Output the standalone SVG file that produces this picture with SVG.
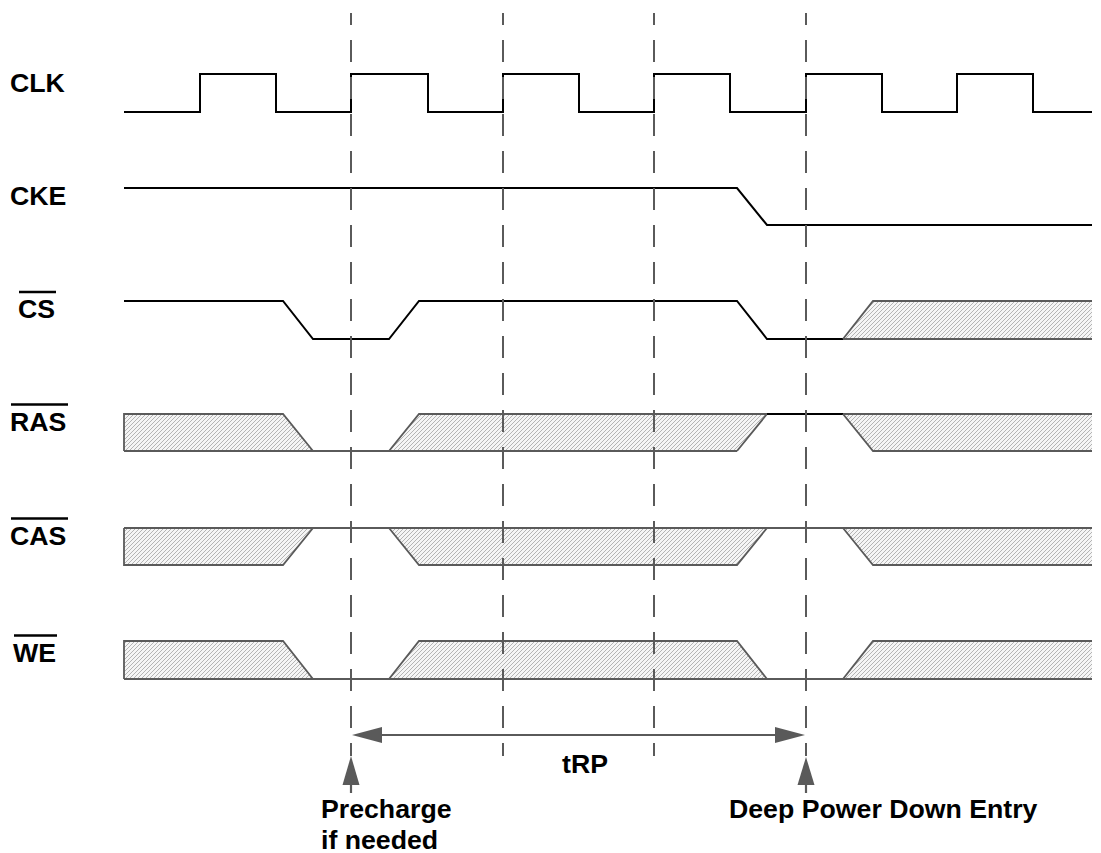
<svg xmlns="http://www.w3.org/2000/svg" width="1101" height="853" viewBox="0 0 1101 853">
<style>
.lbl{font-family:"Liberation Sans",Arial,sans-serif;font-weight:bold;font-size:26.7px;fill:#000}
.sig{fill:none;stroke:#000;stroke-width:2;stroke-linejoin:miter}
.gry{fill:none;stroke:#5a5a5a;stroke-width:1.8}
.hat{fill:url(#hatch);stroke:none}
.ovl{stroke:#000;stroke-width:2.6}
.dash{stroke:#5a5a5a;stroke-width:2;stroke-dasharray:22 15;stroke-dashoffset:10;fill:none}
.arr{stroke:#5a5a5a;stroke-width:2.2;fill:none}
.head{fill:#5a5a5a;stroke:none}
</style>
<defs>
<pattern id="hatch" patternUnits="userSpaceOnUse" width="4" height="4">
<rect width="4" height="4" fill="#f5f5f5"/>
<path d="M-1,1 L1,-1 M0,4 L4,0 M3,5 L5,3" stroke="#b4b4b4" stroke-width="1"/>
</pattern>
</defs>
<rect width="1101" height="853" fill="#fff"/>

<g id="clk">
<text class="lbl" x="10" y="92">CLK</text>
<polyline class="sig" points="124,112 200,112 200,74 276,74 276,112 351,112 351,74 428,74 428,112 503,112 503,74 579,74 579,112 654,112 654,74 730,74 730,112 806,112 806,74 882,74 882,112 957,112 957,74 1033,74 1033,112 1092,112"/>
</g>

<g id="cke">
<text class="lbl" x="10" y="205">CKE</text>
<polyline class="sig" points="124,188 737,188 767,225 1092,225"/>
</g>

<g id="cs">
<text class="lbl" x="18" y="318">CS</text>
<line class="ovl" x1="19" y1="292" x2="56" y2="292"/>
<polygon class="hat" points="843,339 873,301 1092,301 1092,339"/>
<polyline class="sig" points="124,301 283,301 313,339 389,339 419,301 737,301 767,339 843,339"/>
<polyline class="gry" points="843,339 873,301 1092,301"/>
<line class="gry" x1="843" y1="339" x2="1092" y2="339"/>
</g>

<g id="ras">
<text class="lbl" x="10" y="431">RAS</text>
<line class="ovl" x1="11" y1="404.5" x2="68" y2="404.5"/>
<polygon class="hat" points="124,414 283,414 313,451 124,451"/>
<polygon class="hat" points="389,451 419,414 767,414 737,451"/>
<polygon class="hat" points="843,414 1092,414 1092,451 873,451"/>
<polyline class="gry" points="124,451 124,414 283,414 313,451"/>
<line class="gry" x1="124" y1="451" x2="737" y2="451"/>
<polyline class="gry" points="389,451 419,414 767,414 737,451"/>
<line class="sig" x1="767" y1="414" x2="843" y2="414"/>
<polyline class="gry" points="843,414 1092,414"/>
<polyline class="gry" points="843,414 873,451 1092,451"/>
</g>

<g id="cas">
<text class="lbl" x="10" y="545">CAS</text>
<line class="ovl" x1="11" y1="518.5" x2="68" y2="518.5"/>
<polygon class="hat" points="124,528 313,528 283,565 124,565"/>
<polygon class="hat" points="389,528 767,528 737,565 419,565"/>
<polygon class="hat" points="843,528 1092,528 1092,565 873,565"/>
<polyline class="gry" points="124,528 124,565 283,565 313,528"/>
<line class="gry" x1="124" y1="528" x2="1092" y2="528"/>
<polyline class="gry" points="389,528 419,565 737,565 767,528"/>
<polyline class="gry" points="843,528 873,565 1092,565"/>
</g>

<g id="we">
<text class="lbl" x="13" y="662">WE</text>
<line class="ovl" x1="14" y1="635.5" x2="57" y2="635.5"/>
<polygon class="hat" points="124,641 283,641 313,679 124,679"/>
<polygon class="hat" points="389,679 419,641 737,641 767,679"/>
<polygon class="hat" points="843,679 873,641 1092,641 1092,679"/>
<polyline class="gry" points="124,679 124,641 283,641 313,679"/>
<line class="gry" x1="124" y1="679" x2="1092" y2="679"/>
<polyline class="gry" points="389,679 419,641 737,641 767,679"/>
<polyline class="gry" points="843,679 873,641 1092,641"/>
</g>

<g id="connectors">
<line class="dash" x1="351" y1="13" x2="351" y2="756"/>
<line class="dash" x1="503" y1="13" x2="503" y2="756"/>
<line class="dash" x1="654" y1="13" x2="654" y2="756"/>
<line class="dash" x1="806" y1="13" x2="806" y2="756"/>
<line class="arr" x1="378" y1="735" x2="778" y2="735"/>
<polygon class="head" points="352,735 382,727 382,743"/>
<polygon class="head" points="805,735 775,727 775,743"/>
<line class="arr" x1="351" y1="780" x2="351" y2="793"/>
<polygon class="head" points="351,756 342.5,785 359.5,785"/>
<line class="arr" x1="806" y1="780" x2="806" y2="793"/>
<polygon class="head" points="806,757 797.5,785 814.5,785"/>
</g>

<g id="annotations">
<text class="lbl" x="562" y="773">tRP</text>
<text class="lbl" x="321" y="818">Precharge</text>
<text class="lbl" x="321" y="849">if needed</text>
<text class="lbl" x="729" y="818">Deep Power Down Entry</text>
</g>
</svg>
